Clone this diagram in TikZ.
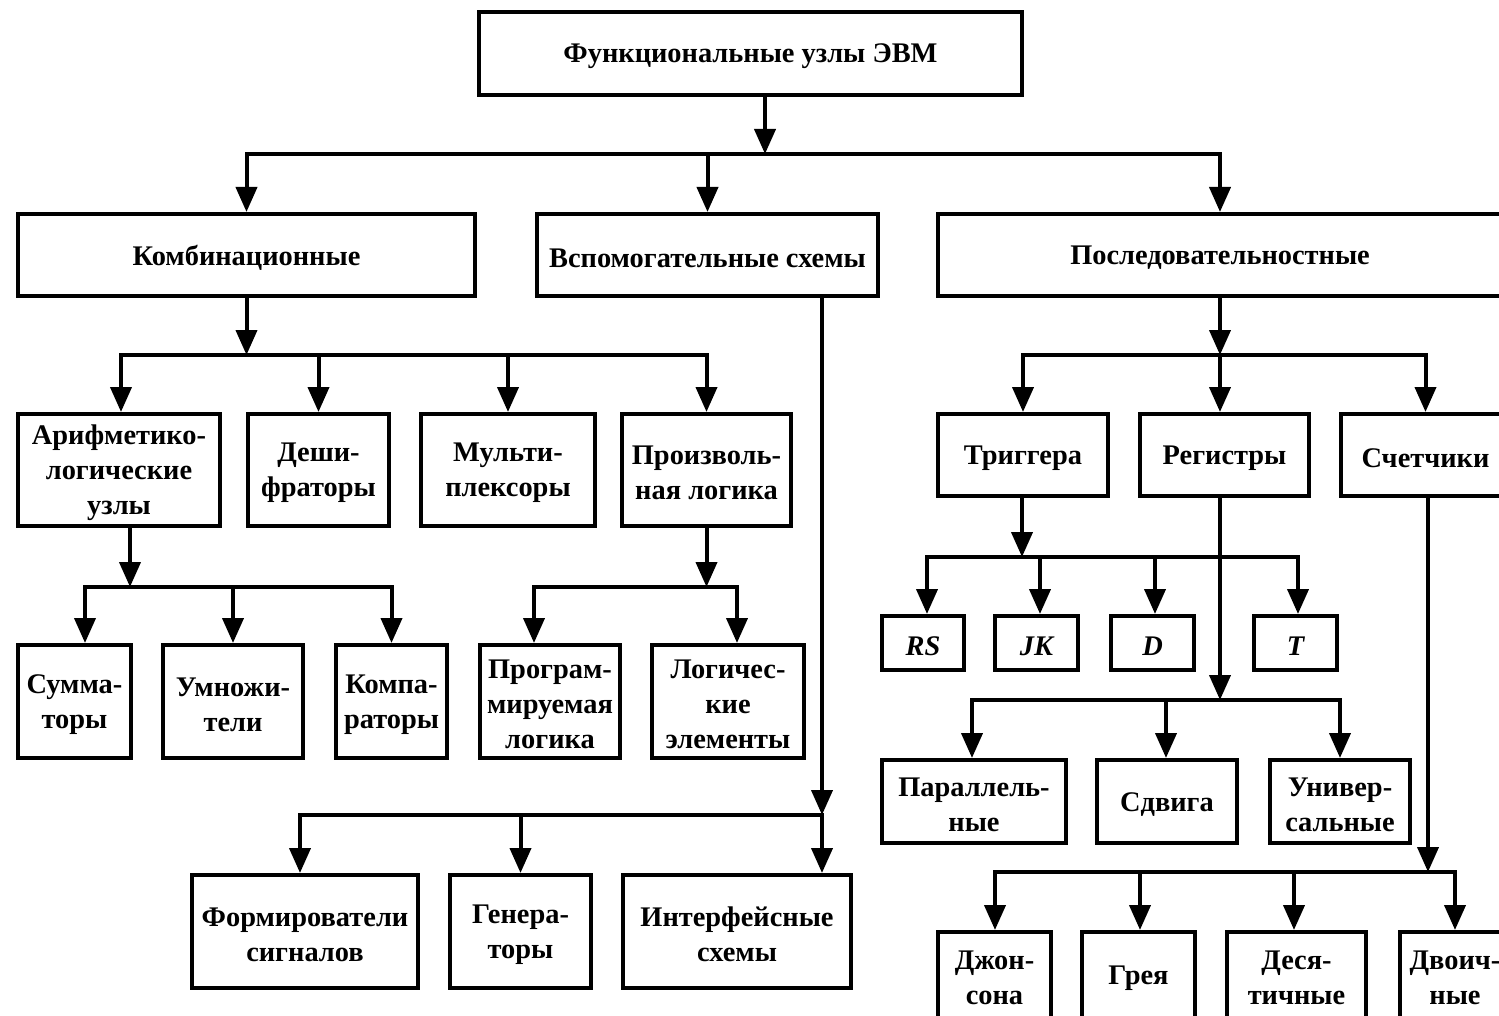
\documentclass[tikz,border=0pt]{standalone}
\usepackage{fontspec}
\setmainfont{Liberation Serif}
\usetikzlibrary{arrows.meta}

\tikzset{
  blk/.style={draw, line width=4pt, inner sep=0pt},
  lbl/.style={align=center, inner sep=0pt,
    font=\fontsize{28.4}{35}\selectfont\bfseries},
  wire/.style={line width=4pt, line cap=rect},
  arr/.style={line width=4pt, -{Triangle[length=25pt,width=21pt]}},
}

% box given by its outer corners: name, x1, y1, x2, y2, text
\newcommand\blkbox[6]{%
  \node[blk, minimum width={#4-#2-4}, minimum height={#5-#3-4}]
    (#1) at ({(#2+#4)/2},{(#3+#5)/2}) {};
  \node[lbl] (#1-text) at ([yshift=-3pt]#1.center) {#6};}

\begin{document}
\begin{tikzpicture}[x=1pt, y=-1pt]
\useasboundingbox (0,0) rectangle (1499,1016);
\clip (0,0) rectangle (1499,1016);

% ---- boxes ----
\blkbox{top}{477}{10}{1024}{97}{Функциональные узлы ЭВМ}
\blkbox{komb}{16}{212}{477}{298}{Комбинационные}
\blkbox{vspom}{535}{212}{880}{298}{Вспомогательные схемы}
\blkbox{posl}{936}{212}{1504}{298}{Последовательностные}

\blkbox{alu}{16}{412}{222}{528}{Арифметико-\\логические\\узлы}
\blkbox{desh}{246}{412}{391}{528}{Деши-\\фраторы}
\blkbox{mux}{419}{412}{597}{528}{Мульти-\\плексоры}
\blkbox{proiz}{620}{412}{793}{528}{Произволь-\\ная логика}

\blkbox{trig}{936}{412}{1110}{498}{Триггера}
\blkbox{reg}{1138}{412}{1311}{498}{Регистры}
\blkbox{cnt}{1339}{412}{1512}{498}{Счетчики}

\blkbox{summ}{16}{643}{133}{760}{Сумма-\\торы}
\blkbox{umn}{161}{643}{305}{760}{Умножи-\\тели}
\blkbox{komp}{334}{643}{449}{760}{Компа-\\раторы}
\blkbox{prog}{478}{643}{622}{760}{Програм-\\мируемая\\логика}
\blkbox{logel}{650}{643}{806}{760}{Логичес-\\кие\\элементы}

\blkbox{rs}{880}{614}{966}{672}{\itshape RS}
\blkbox{jk}{993}{614}{1080}{672}{\itshape JK}
\blkbox{dd}{1109}{614}{1196}{672}{\itshape D}
\blkbox{tt}{1252}{614}{1339}{672}{\itshape T}

\blkbox{par}{880}{758}{1068}{845}{Параллель-\\ные}
\blkbox{sdv}{1095}{758}{1239}{845}{Сдвига}
\blkbox{univ}{1268}{758}{1412}{845}{Универ-\\сальные}

\blkbox{form}{190}{873}{420}{990}{Формирователи\\сигналов}
\blkbox{gen}{448}{873}{593}{990}{Генера-\\торы}
\blkbox{intf}{621}{873}{853}{990}{Интерфейсные\\схемы}

\blkbox{john}{936}{930}{1053}{1020}{Джон-\\сона}
\blkbox{grey}{1080}{930}{1197}{1020}{Грея}
\blkbox{dec}{1225}{930}{1368}{1020}{Деся-\\тичные}
\blkbox{bin}{1398}{930}{1512}{1020}{Двоич-\\ные}

% ---- level 1: top -> main groups ----
\coordinate (b0) at (765,154);
\draw[arr] (top.south -| b0) -- (b0);
\draw[wire] (b0 -| komb.north) -- (b0 -| posl.north);
\draw[arr] (b0 -| komb.north) -- (komb.north);
\draw[arr] (b0 -| vspom.north) -- (vspom.north);
\draw[arr] (b0 -| posl.north) -- (posl.north);

% ---- combinational ----
\coordinate (b1) at (247,355);
\coordinate (b1a) at (121,355);
\draw[arr] (komb.south) -- (komb.south |- b1);
\draw[wire] (b1a) -- (b1 -| proiz.north);
\draw[arr] (b1a) -- (b1a |- alu.north);
\draw[arr] (b1 -| desh.north) -- (desh.north);
\draw[arr] (b1 -| mux.north) -- (mux.north);
\draw[arr] (b1 -| proiz.north) -- (proiz.north);

% arithmetic-logic units
\coordinate (b2) at (130,587);
\coordinate (b2a) at (85,587);
\draw[arr] (alu.south -| b2) -- (b2);
\draw[wire] (b2a) -- (b2 -| komp.north);
\draw[arr] (b2a) -- (b2a |- summ.north);
\draw[arr] (b2 -| umn.north) -- (umn.north);
\draw[arr] (b2 -| komp.north) -- (komp.north);

% arbitrary logic
\coordinate (b3) at (707,587);
\coordinate (b3a) at (534,587);
\coordinate (b3b) at (737,587);
\draw[arr] (proiz.south) -- (proiz.south |- b3);
\draw[wire] (b3a) -- (b3b);
\draw[arr] (b3a) -- (b3a |- prog.north);
\draw[arr] (b3b) -- (b3b |- logel.north);

% ---- auxiliary circuits ----
\coordinate (b4) at (822,815);
\coordinate (b4a) at (300,815);
\draw[arr] (vspom.south -| b4) -- (b4);
\draw[wire] (b4a) -- (b4);
\draw[arr] (b4a) -- (b4a |- form.north);
\draw[arr] (b4 -| gen.north) -- (gen.north);
\draw[arr] (b4) -- (b4 |- intf.north);

% ---- sequential ----
\coordinate (b5) at (1220,355);
\draw[arr] (posl.south) -- (posl.south |- b5);
\draw[wire] (b5 -| trig.north) -- (b5 -| cnt.north);
\draw[arr] (b5 -| trig.north) -- (trig.north);
\draw[arr] (b5) -- (b5 |- reg.north);
\draw[arr] (b5 -| cnt.north) -- (cnt.north);

% triggers
\coordinate (b6) at (1022,557);
\coordinate (b6a) at (927,557);
\coordinate (b6b) at (1040,557);
\coordinate (b6c) at (1155,557);
\coordinate (b6d) at (1298,557);
\draw[arr] (trig.south -| b6) -- (b6);
\draw[wire] (b6a) -- (b6d);
\draw[arr] (b6a) -- (b6a |- rs.north);
\draw[arr] (b6b) -- (b6b |- jk.north);
\draw[arr] (b6c) -- (b6c |- dd.north);
\draw[arr] (b6d) -- (b6d |- tt.north);

% registers
\coordinate (b7) at (1220,700);
\coordinate (b7a) at (972,700);
\coordinate (b7b) at (1166,700);
\coordinate (b7c) at (1340,700);
\draw[arr] (reg.south -| b7) -- (b7);
\draw[wire] (b7a) -- (b7c);
\draw[arr] (b7a) -- (b7a |- par.north);
\draw[arr] (b7b) -- (b7b |- sdv.north);
\draw[arr] (b7c) -- (b7c |- univ.north);

% counters
\coordinate (b8) at (1428,872);
\coordinate (b8a) at (995,872);
\coordinate (b8b) at (1140,872);
\coordinate (b8c) at (1294,872);
\coordinate (b8d) at (1455,872);
\draw[arr] (cnt.south -| b8) -- (b8);
\draw[wire] (b8a) -- (b8d);
\draw[arr] (b8a) -- (b8a |- john.north);
\draw[arr] (b8b) -- (b8b |- grey.north);
\draw[arr] (b8c) -- (b8c |- dec.north);
\draw[arr] (b8d) -- (b8d |- bin.north);
\end{tikzpicture}
\end{document}
